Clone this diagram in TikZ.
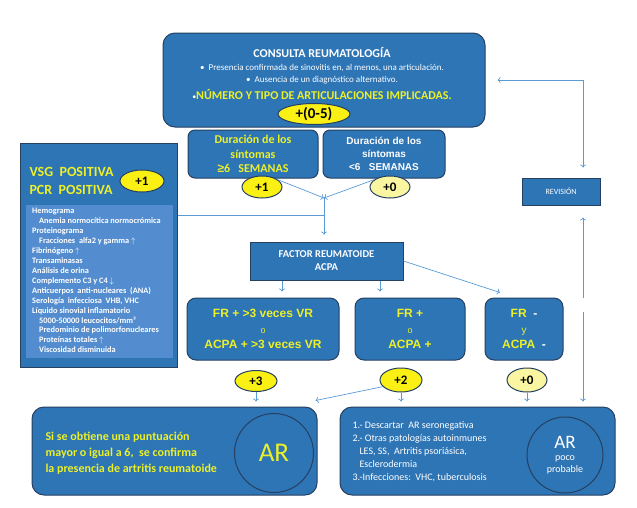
\documentclass[tikz,border=0pt]{standalone}
\usepackage{fontspec}
\setmainfont{Carlito}
\newfontfamily\arial{Liberation Sans}
\usepackage{xcolor}
\usepackage{tikz}
\usetikzlibrary{
	arrows.meta,
	calc,
	positioning,
	shapes.geometric
}

\definecolor{azul}{RGB}{46,117,182}
\definecolor{azulosc}{RGB}{37,64,97}
\definecolor{azulcl}{RGB}{84,141,207}
\definecolor{amarillo}{RGB}{236,240,40}
\definecolor{elipse}{RGB}{250,240,20}
\definecolor{elipsecl}{RGB}{250,245,160}
\definecolor{flechas}{RGB}{91,155,213}

\newcommand{\tam}[2]{\fontsize{#1}{#2}\selectfont}

\begin{document}
\begin{tikzpicture}[x=1pt, y=-1pt,
	caja/.style={draw=azulosc, line width=1pt, fill=azul, rounded corners=9pt, inner sep=0pt},
	cajar/.style={draw=azulosc, line width=1pt, fill=azul, inner sep=0pt},
	punto/.style={ellipse, draw=azulosc, line width=1pt, fill=elipse, inner sep=0pt,
		font=\bfseries\tam{13}{13}},
	circ/.style={circle, draw=azulosc, line width=1pt, fill=azul, inner sep=0pt},
	flecha/.style={draw=flechas, line width=0.7pt, -{To[length=3pt,width=6pt]}},
	linea/.style={draw=flechas, line width=0.7pt}
	]
		\useasboundingbox (0,0) rectangle (637,507);
		
		% consulta
		\node[caja, rounded corners=12pt, minimum width=322, minimum height=94] (consulta) at (324,80) {};
		\node[text=white, font=\bfseries\tam{12}{14}] (titulo) at (322,53) {CONSULTA REUMATOLOGÍA};
		\node[text=white, font=\tam{9}{11}] (crit1) at (322,68) {•\ \ Presencia confirmada de sinovitis en, al menos, una articulación.};
		\node[text=white, font=\tam{9}{11}] (crit2) at (322,80) {•\ \ Ausencia de un diagnóstico alternativo.};
		\node[text=amarillo, font=\bfseries\tam{12}{14}] (crit3) at (322,94) {{\color{white}\mdseries\tam{8}{8}•}NÚMERO Y TIPO DE ARTICULACIONES IMPLICADAS.};
		\node[punto, minimum width=72, minimum height=21, font=\bfseries\tam{15}{15}] (p05) at (314,114) {+(0-5)};
		
		% duracion
		\node[caja, rounded corners=7pt, minimum width=130, minimum height=48, align=center,
		text=amarillo, font=\bfseries\tam{12}{14.5}] (dur6) at (253,154) {Duración de los\\síntomas\\{\arial ≥}6\ \ \ SEMANAS};
		\node[caja, rounded corners=7pt, minimum width=122, minimum height=48, align=center,
		text=white, font=\arial\bfseries\tam{10}{13}] (dur0) at (384,154) {Duración de los\\síntomas\\<6\ \ \ SEMANAS};
		\node[punto, minimum width=40, minimum height=22] (p1a) at (262,187) {+1};
		\node[punto, fill=elipsecl, minimum width=40, minimum height=22] (p0a) at (390,187) {+0};
		
		% VSG y PCR
		\node[cajar, minimum width=157, minimum height=224] (vsg) at (99,255) {};
		\node[fill=azulcl, minimum width=147, minimum height=153, inner sep=0pt] (panel) at (99.5,281.5) {};
		\node[anchor=west, align=left, text=amarillo, font=\bfseries\tam{14}{17.5}] (vsgtxt) at (26,181) {VSG\ \ POSITIVA\\PCR\ \ POSITIVA};
		\node[punto, minimum width=44, minimum height=22] (p1b) at (142,181) {+1};
		\node[anchor=north west, align=left, inner sep=0pt, text=white, font=\bfseries\tam{8.3}{9.95}] (pruebas) at (32,208) {%
			Hemograma\\
			\hspace*{7pt}Anemia normocítica normocrómica\\
			Proteinograma\\
			\hspace*{7pt}Fracciones\ \ alfa2 y gamma\ $\uparrow$\\
			Fibrinógeno $\uparrow$\\
			Transaminasas\\
			Análisis de orina\\
			Complemento C3 y C4 $\downarrow$\\
			Anticuerpos\ \ anti-nucleares\ \ (ANA)\\
			Serología\ \ infecciosa\ \ VHB, VHC\\
			Líquido sinovial inflamatorio\\
			\hspace*{7pt}5000-50000 leucocitos/mm³\\
			\hspace*{7pt}Predominio de polimorfonucleares\\
			\hspace*{7pt}Proteínas totales $\uparrow$\\
			\hspace*{7pt}Viscosidad disminuida};
		
		% factor reumatoide
		\node[cajar, minimum width=153, minimum height=38, align=center, text=white,
		font=\bfseries\tam{10.5}{13}] (fr) at (326.5,261) {FACTOR REUMATOIDE\\ACPA};
		
		\node[caja, minimum width=152, minimum height=62, align=center, text=amarillo,
		font=\arial\bfseries\tam{12}{15.5}] (frmas3) at (263,329) {FR + >3 veces VR\\{\mdseries\tam{9}{9}o}\\ACPA + >3 veces VR};
		\node[caja, minimum width=110, minimum height=62, align=center, text=amarillo,
		font=\arial\bfseries\tam{12}{15.5}] (frmas) at (410,329) {FR +\\{\mdseries\tam{9}{9}o}\\ACPA +};
		\node[caja, minimum width=78, minimum height=62, align=center, text=amarillo,
		font=\arial\bfseries\tam{12}{15.5}] (frmenos) at (524,329) {FR\ \ {\color{white}-}\\{\mdseries\tam{10}{10}y}\\ACPA\ \ {\color{white}-}};
		
		\node[punto, minimum width=42, minimum height=21] (p3) at (256,381) {+3};
		\node[punto, minimum width=42, minimum height=24] (p2) at (401,380) {+2};
		\node[punto, fill=elipsecl, minimum width=40, minimum height=24] (p0b) at (527,380) {+0};
		
		% resultados
		\node[caja, rounded corners=12pt, minimum width=285, minimum height=88] (ar) at (174.5,451) {};
		\node[anchor=west, align=left, text=amarillo, font=\bfseries\tam{12}{16}] (artxt) at (42,453)
		{Si se obtiene una puntuación\\mayor o igual a 6,\ \ se confirma\\la presencia de artritis reumatoide};
		\node[circ, minimum size=79, text=amarillo, font=\tam{27}{27}] (arc1) at (274,453) {AR};
		
		\node[caja, rounded corners=12pt, minimum width=275, minimum height=88] (arpoco) at (477.5,451) {};
		\node[anchor=west, align=left, text=white, font=\tam{10}{13}] (arpocotxt) at (349,452)
		{1.- Descartar\ \ AR seronegativa\\2.- Otras patologías autoinmunes\\\hspace*{7pt}LES, SS,\ \ Artritis psoriásica,\\\hspace*{7pt}Esclerodermia\\3.-Infecciones:\ \ VHC, tuberculosis};
		\node[circ, minimum size=76, align=center, text=white, font=\tam{10}{12}] (arc2) at (565,455) {{\tam{19}{19}AR}\\poco\\probable};
		
		% revision
		\node[cajar, minimum width=78, minimum height=27, text=white, font=\tam{8}{8}] (revision) at (561,191.5) {REVISIÓN};
		
		% flechas
		\coordinate (junta) at (324,198);
		\coordinate (cruce) at (324,215);
		\draw[flecha] (p1a.25) -- (junta);
		\draw[flecha] (p0a.155) -- (junta);
		\draw[flecha, shorten >=7pt] (junta) -- (junta |- fr.north);
		\draw[linea] (cruce -| vsg.east) -- (cruce);
		
		\draw[flecha, shorten >=6pt] ([xshift=-44.5pt]fr.south) -- ([xshift=-44.5pt]fr.south |- frmas3.north);
		\draw[flecha, shorten >=6pt] ([xshift=53.5pt]fr.south) -- ([xshift=53.5pt]fr.south |- frmas.north);
		\draw[flecha] (fr.east) -- ([xshift=-24pt, yshift=5pt]frmenos.north);
		
		\draw[flecha, shorten >=5pt] (p3.south) -- (p3.south |- ar.north);
		\draw[flecha, shorten >=5pt] (p2.south) -- (p2.south |- arpoco.north);
		\draw[flecha, shorten >=5pt] (p0b.south) -- (p0b.south |- arpoco.north);
		\draw[flecha] (p2.200) -- ([xshift=-2pt, yshift=6pt]ar.north east);
		
		\coordinate (esq) at (583,80);
		\coordinate (rev1) at (583,298);
		\coordinate (rev2) at (583,312);
		\draw[flecha, shorten >=12pt] (esq) -- (esq -| consulta.east);
		\draw[flecha, shorten >=10pt] (esq) -- (esq |- revision.north);
		\draw[flecha, shorten >=12pt] (rev1) -- (rev1 |- revision.south);
		\draw[flecha, shorten >=5pt] (rev2) -- (rev2 |- arpoco.north);
	\end{tikzpicture}
\end{document}
